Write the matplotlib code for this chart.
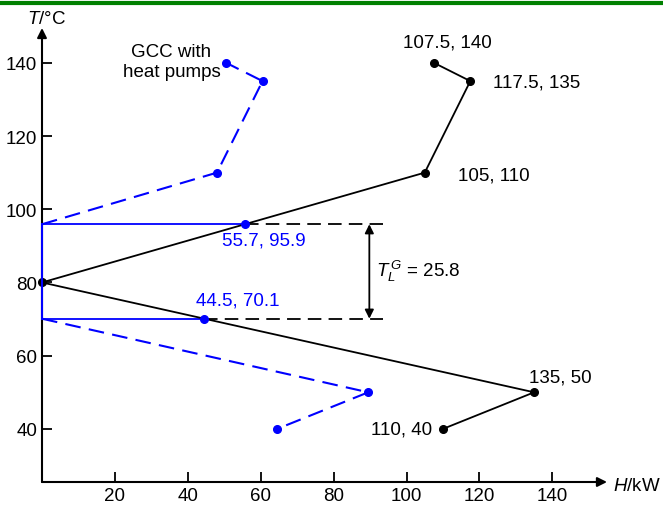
import matplotlib
matplotlib.use("Agg")
import matplotlib.pyplot as plt
from matplotlib.lines import Line2D

plt.rcParams['font.family'] = ['Liberation Sans', 'DejaVu Sans']
plt.rcParams['mathtext.fontset'] = 'custom'
plt.rcParams['mathtext.it'] = 'Liberation Sans:italic'
plt.rcParams['mathtext.rm'] = 'Liberation Sans'

# Black GCC curve (H kW, T degC)
gcc_H = [110, 135, 0, 105, 117.5, 107.5]
gcc_T = [40, 50, 80, 110, 135, 140]
gcc_labels = ["110, 40", "135, 50", None, "105, 110", "117.5, 135", "107.5, 140"]

# Blue GCC with heat pumps (dashed)
hp_low_H = [0, 89.5, 64.5]
hp_low_T = [70.1, 50, 40]
hp_high_H = [0, 48, 60.5, 50.5]
hp_high_T = [95.9, 110, 135, 140]

# Heat pump levels
lev_H = [55.7, 44.5]
lev_T = [95.9, 70.1]
lev_labels = ["55.7, 95.9", "44.5, 70.1"]
tlg_value = 25.8

xticks = [20, 40, 60, 80, 100, 120, 140]
yticks = [40, 60, 80, 100, 120, 140]

BLUE = '#0000ff'
fig = plt.figure(figsize=(6.63, 5.06), dpi=100)
W, H = 663, 506
x0, x1 = 42, 607
y0, y1 = 483, 29
ax = fig.add_axes([x0 / W, 1 - y0 / H, (x1 - x0) / W, (y0 - y1) / H])
ax.set_xlim(0, 155)
ax.set_ylim(25.5, 149.5)
for s in ax.spines.values():
    s.set_visible(False)

# axes arrows
ax.annotate('', xy=(1, 0), xytext=(0, 0), xycoords='axes fraction',
            arrowprops=dict(arrowstyle='-|>', color='black', lw=1.5,
                            mutation_scale=14, shrinkA=0, shrinkB=0))
ax.annotate('', xy=(0, 1), xytext=(0, 0), xycoords='axes fraction',
            arrowprops=dict(arrowstyle='-|>', color='black', lw=1.5,
                            mutation_scale=14, shrinkA=0, shrinkB=0))

fs = 13.5
ax.set_xticks(xticks)
ax.set_yticks(yticks)
ax.tick_params(direction='in', length=7.5, width=1.3, labelsize=fs, pad=3.5)

DASH = (7.5, 4)
# blue dashed heat pump curves
ax.plot(hp_low_H, hp_low_T, color=BLUE, lw=1.5, dashes=DASH, zorder=3)
ax.plot(hp_low_H[1:], hp_low_T[1:], 'o', color=BLUE, ms=5.5, zorder=4)
ax.plot(hp_high_H, hp_high_T, color=BLUE, lw=1.5, dashes=DASH, zorder=3)
ax.plot(hp_high_H[1:], hp_high_T[1:], 'o', color=BLUE, ms=5.5, zorder=4)

# blue solid levels
for h, t in zip(lev_H, lev_T):
    ax.plot([0, h], [t, t], color=BLUE, lw=1.3, zorder=3)
ax.plot([0, 0], [lev_T[1], lev_T[0]], color=BLUE, lw=1.5, zorder=5, clip_on=False)

# black dashed extension
xd_end = 93.5
for h, t in zip(lev_H, lev_T):
    ax.plot([h, xd_end], [t, t], color='black', lw=1.3, dashes=DASH, zorder=2)

# black GCC
ax.plot(gcc_H, gcc_T, color='black', lw=1.3, zorder=3)
ax.plot(gcc_H, gcc_T, 'o', color='black', ms=5.5, zorder=4, clip_on=False)

ax.plot(lev_H, lev_T, 'o', color=BLUE, ms=5.5, zorder=6)

# double arrow
ax.annotate('', xy=(89.8, lev_T[1]), xytext=(89.8, lev_T[0]),
            arrowprops=dict(arrowstyle='<|-|>', color='black', lw=1.3,
                            mutation_scale=13, shrinkA=0, shrinkB=0))
ax.text(91.5, 83.2, r'$T_L^{\,G}$' + f' = {tlg_value}', fontsize=fs,
        ha='left', va='center')

ax.text(111.3, 145.7, gcc_labels[5], fontsize=fs, ha='center', va='center')
ax.text(123.6, 134.8, gcc_labels[4], fontsize=fs, ha='left', va='center')
ax.text(114, 109.3, gcc_labels[3], fontsize=fs, ha='left', va='center')
ax.text(133.5, 54.2, gcc_labels[1], fontsize=fs, ha='left', va='center')
ax.text(107, 40, gcc_labels[0], fontsize=fs, ha='right', va='center')
ax.text(49.5, 91.6, lev_labels[0], fontsize=fs, ha='left', va='center', color=BLUE)
ax.text(42.3, 75.2, lev_labels[1], fontsize=fs, ha='left', va='center', color=BLUE)
ax.text(35.5, 140.3, "GCC with\nheat pumps", fontsize=fs, ha='center', va='center',
        linespacing=1.25)

# axis labels
fig.text(27 / W, 1 - 20 / H, r'$T$/°C', fontsize=fs, ha='left', va='center')
fig.text(613 / W, 1 - 487 / H, r'$H$/kW', fontsize=fs, ha='left', va='center')

# green top line
fig.add_artist(Line2D([0, 1], [1 - 4 / H, 1 - 4 / H], color='#008000', lw=3,
                      transform=fig.transFigure))

fig.savefig('out.png', dpi=100)
